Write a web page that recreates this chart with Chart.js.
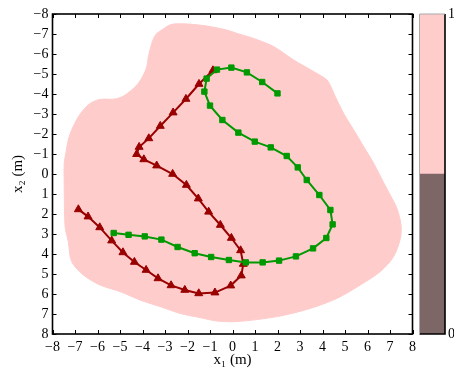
<!DOCTYPE html>
<html>
<head>
<meta charset="utf-8">
<script src="https://cdn.jsdelivr.net/npm/chart.js@4.4.1/dist/chart.umd.min.js"></script>
<style>
  html, body { margin: 0; padding: 0; background: #fff; }
  #wrap { position: relative; width: 454px; height: 370px; }
  #main { position: absolute; left: 0; top: 0; }
  #cbar { position: absolute; left: 419px; top: 0; }
</style>
</head>
<body>
<div id="wrap">
  <canvas id="main" width="454" height="370"></canvas>
  <canvas id="cbar" width="35" height="370"></canvas>
</div>
<script>
// ---- data ----
const tickValues = [-8, -7, -6, -5, -4, -3, -2, -1, 0, 1, 2, 3, 4, 5, 6, 7, 8];
const xTitle = "x\u2081 (m)";
const yTitle = "x\u2082 (m)";

const greenX = [-5.28, -4.62, -3.90, -3.16, -2.44, -1.68, -0.95, -0.16, 0.59, 1.34, 2.07, 2.82, 3.58, 4.17, 4.45, 4.35, 3.86, 3.30, 2.90, 2.41, 1.70, 0.99, 0.26, -0.45, -1.00, -1.25, -1.15, -0.69, -0.05, 0.64, 1.32, 2.00];
const greenY = [2.95, 3.04, 3.12, 3.28, 3.65, 3.96, 4.15, 4.30, 4.42, 4.42, 4.33, 4.12, 3.72, 3.20, 2.52, 1.80, 1.05, 0.30, -0.33, -0.90, -1.33, -1.62, -2.07, -2.70, -3.42, -4.12, -4.77, -5.22, -5.32, -5.08, -4.60, -4.03];

const redX = [-6.85, -6.42, -5.90, -5.37, -4.87, -4.36, -3.84, -3.31, -2.73, -2.12, -1.50, -0.78, -0.08, 0.39, 0.48, 0.36, -0.05, -0.54, -1.06, -1.52, -2.05, -2.66, -3.37, -3.94, -4.26, -4.15, -3.72, -3.21, -2.64, -2.07, -1.49, -0.87];
const redY = [1.77, 2.13, 2.67, 3.33, 3.92, 4.40, 4.80, 5.22, 5.57, 5.80, 5.97, 5.93, 5.58, 5.08, 4.50, 3.82, 3.20, 2.55, 1.89, 1.23, 0.55, 0.00, -0.42, -0.73, -0.99, -1.35, -1.78, -2.40, -3.07, -3.75, -4.50, -5.18];

// boundary of the pink (value 1) region
const regionX = [-3.37, -3.08, -2.85, -2.63, -2.00, -1.15, -0.26, 0.20, 0.94, 1.83, 2.72, 3.61, 4.20, 4.40, 4.57, 4.94, 5.39, 5.83, 6.28, 6.75, 7.01, 7.31, 7.49, 7.46, 7.16, 6.57, 5.68, 4.64, 3.46, 1.98, 0.20, -0.70, -1.44, -2.33, -3.22, -4.11, -5.00, -5.89, -6.63, -7.15, -7.30, -7.44, -7.48, -7.48, -7.41, -7.30, -7.15, -6.85, -6.63, -6.33, -5.89, -5.22, -4.85, -4.48, -4.19, -3.96, -3.81, -3.74, -3.59, -3.50, -3.37];
const regionY = [-7.03, -7.25, -7.42, -7.50, -7.50, -7.40, -7.20, -7.03, -6.78, -6.37, -5.70, -5.12, -4.70, -4.30, -3.87, -3.03, -2.20, -1.37, -0.53, 0.50, 1.05, 1.72, 2.55, 3.22, 4.13, 4.88, 5.55, 6.22, 6.72, 7.13, 7.38, 7.35, 7.18, 6.97, 6.63, 6.30, 5.88, 5.55, 5.05, 4.38, 3.38, 2.63, 0.55, -0.53, -1.03, -1.70, -2.20, -2.87, -3.20, -3.53, -3.73, -3.75, -3.90, -4.20, -4.53, -4.95, -5.37, -5.87, -6.53, -6.80, -7.03];

const colorbarLevels = [0, 0.5, 1];
const colorbarTicks = [0, 1];

// ---- styles ----
const PINK = '#FFCCCC';
const DARK = '#7D6666';
const GREEN = '#009900';
const RED = '#990000';
const FONT = "'Liberation Serif', 'Times New Roman', serif";
const FS = 14;

const pts = (xs, ys) => xs.map((x, i) => ({ x: x, y: ys[i] }));
const fmt = v => (v < 0 ? '\u2212' + Math.abs(v) : String(v));

const frameTicks = {
  id: 'frameTicks',
  afterDraw(chart) {
    const ctx = chart.ctx;
    const a = chart.chartArea;
    const xs = chart.scales.x, ys = chart.scales.y;
    const L = 4;
    ctx.save();
    ctx.strokeStyle = '#000';
    ctx.lineWidth = 1;
    ctx.beginPath();
    xs.ticks.forEach(t => {
      const p = Math.round(xs.getPixelForValue(t.value)) + 0.5;
      ctx.moveTo(p, a.bottom); ctx.lineTo(p, a.bottom - L);
      ctx.moveTo(p, a.top); ctx.lineTo(p, a.top + L);
    });
    ys.ticks.forEach(t => {
      const p = Math.round(ys.getPixelForValue(t.value)) + 0.5;
      ctx.moveTo(a.left, p); ctx.lineTo(a.left + L, p);
      ctx.moveTo(a.right, p); ctx.lineTo(a.right - L, p);
    });
    ctx.stroke();
    ctx.lineWidth = 1.6;
    ctx.strokeRect(a.left, a.top, a.right - a.left, a.bottom - a.top);
    ctx.restore();
  }
};

new Chart(document.getElementById('main'), {
  type: 'scatter',
  data: {
    datasets: [
      {
        label: 'green',
        data: pts(greenX, greenY),
        showLine: true,
        borderColor: GREEN,
        borderWidth: 2,
        backgroundColor: GREEN,
        pointStyle: 'rect',
        pointRadius: 3.8,
        pointBorderWidth: 1,
        pointBorderColor: GREEN,
        pointBackgroundColor: GREEN,
        tension: 0
      },
      {
        label: 'red',
        data: pts(redX, redY),
        showLine: true,
        borderColor: RED,
        borderWidth: 2,
        backgroundColor: RED,
        pointStyle: 'triangle',
        pointRadius: 4.6,
        pointBorderWidth: 1,
        pointBorderColor: RED,
        pointBackgroundColor: RED,
        tension: 0
      },
      {
        label: 'region',
        data: pts(regionX, regionY),
        showLine: true,
        borderColor: PINK,
        borderWidth: 1,
        backgroundColor: PINK,
        fill: 'shape',
        pointRadius: 0,
        tension: 0.3
      }
    ]
  },
  options: {
    responsive: false,
    animation: false,
    events: [],
    layout: { padding: { left: 0, top: 14, right: 41.5, bottom: 0 } },
    plugins: { legend: { display: false }, tooltip: { enabled: false } },
    scales: {
      x: {
        type: 'linear', min: -8, max: 8,
        afterFit: s => { s.height = 36; },
        afterBuildTicks: s => { s.ticks = tickValues.map(v => ({ value: v })); },
        grid: { display: false, drawTicks: false },
        border: { display: false },
        ticks: { color: '#000', font: { family: FONT, size: FS }, padding: 5, maxRotation: 0, autoSkip: false, callback: v => fmt(v) },
        title: { display: true, text: xTitle, color: '#000', font: { family: FONT, size: 15 }, padding: { top: 0, bottom: 1 } }
      },
      y: {
        type: 'linear', min: -8, max: 8, reverse: true,
        afterFit: s => { s.width = 52.5; },
        afterBuildTicks: s => { s.ticks = tickValues.map(v => ({ value: v })); },
        grid: { display: false, drawTicks: false },
        border: { display: false },
        ticks: { color: '#000', font: { family: FONT, size: FS }, padding: 4, autoSkip: false, callback: v => fmt(v) },
        title: { display: true, text: yTitle, color: '#000', font: { family: FONT, size: 15 }, padding: { top: 9, bottom: 0 } }
      }
    }
  },
  plugins: [frameTicks]
});

const cbarFrame = {
  id: 'cbarFrame',
  afterDraw(chart) {
    const ctx = chart.ctx, a = chart.chartArea;
    ctx.save();
    ctx.strokeStyle = '#000';
    ctx.lineWidth = 1.6;
    ctx.beginPath();
    ctx.moveTo(a.right, a.top); ctx.lineTo(a.right, a.bottom); ctx.lineTo(a.left, a.bottom);
    ctx.stroke();
    ctx.strokeStyle = '#aaa';
    ctx.lineWidth = 1;
    ctx.beginPath();
    ctx.moveTo(a.left, a.bottom); ctx.lineTo(a.left, a.top); ctx.lineTo(a.right, a.top);
    ctx.stroke();
    ctx.restore();
  }
};

new Chart(document.getElementById('cbar'), {
  type: 'bar',
  data: {
    labels: [''],
    datasets: [
      { data: [[colorbarLevels[0], colorbarLevels[1]]], backgroundColor: DARK, borderWidth: 0, barPercentage: 1, categoryPercentage: 1, grouped: false },
      { data: [[colorbarLevels[1], colorbarLevels[2]]], backgroundColor: PINK, borderWidth: 0, barPercentage: 1, categoryPercentage: 1, grouped: false }
    ]
  },
  options: {
    responsive: false,
    animation: false,
    events: [],
    layout: { padding: { left: 0.5, top: 14, right: 0, bottom: 36 } },
    plugins: { legend: { display: false }, tooltip: { enabled: false } },
    scales: {
      x: { display: false },
      y: {
        position: 'right', min: 0, max: 1,
        afterFit: s => { s.width = 9; },
        afterBuildTicks: s => { s.ticks = colorbarTicks.map(v => ({ value: v })); },
        grid: { display: false, drawTicks: false },
        border: { display: false },
        ticks: { color: '#000', font: { family: FONT, size: FS }, padding: 3, autoSkip: false, callback: v => String(v) }
      }
    }
  },
  plugins: [cbarFrame]
});
</script>
</body>
</html>
